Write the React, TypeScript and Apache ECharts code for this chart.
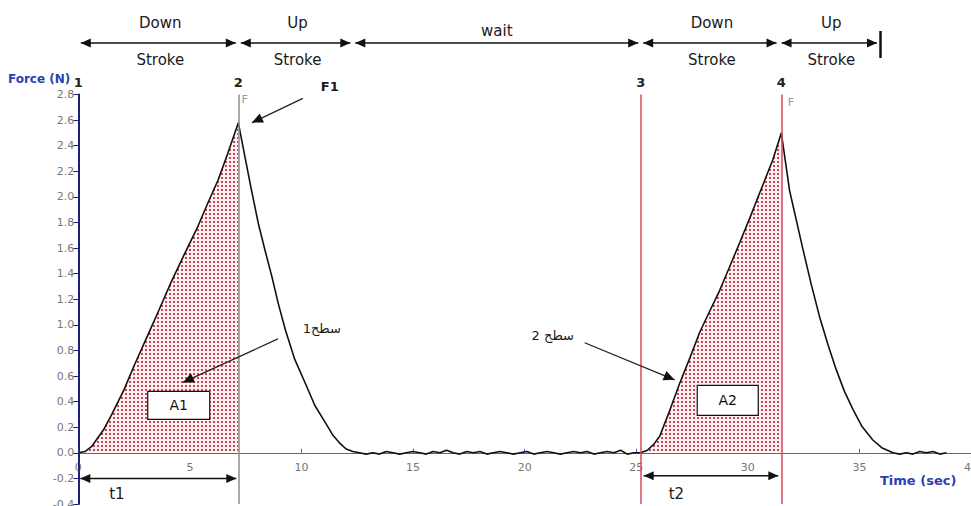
import React, { useEffect, useRef } from 'react';
import * as echarts from 'echarts';

// ---- data (time in s, force in N) ----
const riseOne: [number, number][] = [
  [0, 0], [0.3, 0.01], [0.6, 0.05], [1.13, 0.18], [1.5, 0.3], [2.04, 0.49], [2.5, 0.68],
  [3.09, 0.91], [3.6, 1.11], [4.15, 1.33], [4.75, 1.55], [5.36, 1.77], [5.8, 1.95],
  [6.26, 2.13], [6.7, 2.34], [7.17, 2.58],
];
const fallOne: [number, number][] = [
  [7.17, 2.58], [7.47, 2.31], [7.75, 2.06], [8.07, 1.79], [8.37, 1.58], [8.67, 1.38],
  [8.97, 1.16], [9.28, 0.96], [9.7, 0.73], [10.18, 0.54], [10.6, 0.37], [11.09, 0.23],
  [11.4, 0.14], [11.69, 0.08], [12.0, 0.03], [12.3, 0.01], [12.6, 0.0],
];
const waitNoise: [number, number][] = [
  [12.9, -0.01], [13.2, 0.0], [13.5, -0.01], [13.8, 0.01], [14.1, 0.0], [14.4, -0.01],
  [14.7, 0.0], [15.0, 0.01], [15.3, 0.0], [15.6, -0.01], [15.9, 0.01], [16.2, 0.0],
  [16.5, 0.02], [16.8, 0.0], [17.1, -0.01], [17.4, 0.01], [17.7, 0.0], [18.0, 0.01],
  [18.3, -0.01], [18.6, 0.0], [18.9, 0.01], [19.2, 0.0], [19.5, -0.01], [19.8, 0.0],
  [20.1, 0.01], [20.4, -0.01], [20.7, 0.0], [21.0, 0.01], [21.3, 0.0], [21.6, -0.01],
  [21.9, 0.0], [22.2, 0.01], [22.5, 0.0], [22.8, 0.01], [23.1, -0.01], [23.4, 0.0],
  [23.7, 0.01], [24.0, 0.0], [24.3, 0.02], [24.6, -0.01], [24.9, 0.0],
];
const riseTwo: [number, number][] = [
  [25.2, 0.0], [25.5, 0.02], [25.8, 0.07], [26.05, 0.13], [26.5, 0.33], [26.94, 0.54],
  [27.4, 0.74], [27.84, 0.94], [28.3, 1.11], [28.74, 1.27], [29.2, 1.46], [29.63, 1.64],
  [30.1, 1.84], [30.53, 2.03], [31.12, 2.29], [31.5, 2.5],
];
const fallTwo: [number, number][] = [
  [31.5, 2.5], [31.87, 2.05], [32.17, 1.82], [32.47, 1.59], [32.85, 1.31], [33.22, 1.06],
  [33.6, 0.84], [33.96, 0.65], [34.33, 0.48], [34.71, 0.34], [35.1, 0.21], [35.6, 0.1],
  [36.0, 0.04], [36.5, 0.0],
];
const tailNoise: [number, number][] = [
  [36.8, -0.01], [37.1, 0.0], [37.4, -0.01], [37.7, 0.01], [38.0, 0.0], [38.3, 0.01],
  [38.6, -0.01], [38.9, 0.0],
];

const markerTimes = [0, 7.17, 25.2, 31.5];
const markerNames = ['1', '2', '3', '4'];
const markerColors = ['#1f1f7a', '#8c8c8c', '#d8485c', '#d8485c'];

const phaseBounds = [0, 7.17, 12.3, 25.2, 31.4, 35.9];
const phaseTop = ['Down', 'Up', 'wait', 'Down', 'Up'];
const phaseBottom = ['Stroke', 'Stroke', '', 'Stroke', 'Stroke'];

const xMin = 0, xMax = 40, xStep = 5;
const yMin = -0.4, yMax = 2.8, yStep = 0.2;

const FONT = 'DejaVu Sans, Verdana, sans-serif';

const GRID_TOP = 94.5;
const GRID_BOTTOM = 2;
const CHART_H = 506;

function makeDotPattern(): HTMLCanvasElement {
  const c = document.createElement('canvas');
  c.width = 4;
  c.height = 4;
  const ctx = c.getContext('2d')!;
  ctx.fillStyle = 'rgba(255,240,242,1)';
  ctx.fillRect(0, 0, 4, 4);
  ctx.fillStyle = 'rgba(196,58,76,0.95)';
  ctx.fillRect(1, 1, 2, 2);
  return c;
}

export default function App() {
  const ref = useRef<HTMLDivElement>(null);

  useEffect(() => {
    if (!ref.current) return;
    const chart = echarts.init(ref.current, null, { renderer: 'svg' });
    const pattern = makeDotPattern();
    const forceData = [
      ...riseOne,
      ...fallOne.slice(1),
      ...waitNoise,
      ...riseTwo,
      ...fallTwo.slice(1),
      ...tailNoise,
    ];
    const fillSeries = (name: string, data: [number, number][]) => ({
      name,
      type: 'line',
      data,
      showSymbol: false,
      silent: true,
      z: 1,
      lineStyle: { width: 0 },
      areaStyle: { color: { image: pattern, repeat: 'repeat' }, opacity: 1 },
    });

    // move the x axis (line, ticks and labels) up to the y = 0 level
    const gridH = CHART_H - GRID_TOP - GRID_BOTTOM;
    const zeroOffset = -(gridH * (0 - yMin)) / (yMax - yMin);

    chart.setOption({
      animation: false,
      grid: {
        left: 78.3, right: 0, top: GRID_TOP, bottom: GRID_BOTTOM,
        containLabel: false, outerBoundsMode: 'none',
      },
      xAxis: {
        type: 'value',
        position: 'bottom',
        offset: zeroOffset,
        min: xMin,
        max: xMax,
        interval: xStep,
        name: 'Time (sec)',
        nameLocation: 'end',
        nameGap: -91,
        nameTextStyle: {
          color: '#2a3fb0', fontWeight: 'bold', fontSize: 13, fontFamily: FONT,
          verticalAlign: 'top', align: 'left', padding: [21, 0, 0, 0],
        },
        axisLine: { onZero: false, lineStyle: { color: '#5a5ad0', width: 1 } },
        axisTick: { inside: true, length: 4, lineStyle: { color: '#5a5ad0' } },
        axisLabel: { color: '#777', fontSize: 11, fontFamily: FONT, margin: 9 },
        splitLine: { show: false },
      },
      yAxis: {
        type: 'value',
        min: yMin,
        max: yMax,
        interval: yStep,
        name: 'Force (N)',
        nameLocation: 'end',
        nameGap: 10,
        nameTextStyle: {
          color: '#2a3fb0', fontWeight: 'bold', fontSize: 12, fontFamily: FONT,
          align: 'right', padding: [0, 8, 0, 0],
        },
        axisLine: { show: true, onZero: false, lineStyle: { color: '#1f1f7a', width: 2 } },
        axisTick: { show: true, length: 5, lineStyle: { color: '#1f1f7a' } },
        axisLabel: {
          color: '#777', fontSize: 11, fontFamily: FONT, margin: 4,
          formatter: (v: number) => v.toFixed(1),
        },
        splitLine: { show: false },
      },
      series: [
        fillSeries('A1', riseOne),
        fillSeries('A2', riseTwo),
        {
          name: 'Force',
          type: 'line',
          data: forceData,
          showSymbol: false,
          z: 3,
          lineStyle: { color: '#111', width: 1.6 },
          markLine: {
            silent: true,
            symbol: ['none', 'none'],
            data: markerTimes.map((t, i) => ({
              xAxis: t,
              name: markerNames[i],
              lineStyle: { color: markerColors[i], width: 1.5, type: 'solid' },
            })),
            label: {
              show: true,
              position: 'end',
              formatter: '{b}',
              fontWeight: 'bold',
              fontSize: 13,
              fontFamily: FONT,
              color: '#222',
              distance: 6,
            },
          },
        },
      ],
    });

    const P = (t: number, v: number) => chart.convertToPixel({ gridIndex: 0 }, [t, v]) as number[];
    const X = (t: number) => P(t, 0)[0];
    const g: any[] = [];
    const black = '#111';
    const Z = 100;

    const head = (x: number, y: number, ang: number, len = 10, hw = 4.5) => {
      const c = Math.cos(ang), s = Math.sin(ang);
      const bx = x - c * len, by = y - s * len;
      return {
        type: 'polygon',
        silent: true,
        z: Z,
        shape: { points: [[x, y], [bx - s * hw, by + c * hw], [bx + s * hw, by - c * hw]] },
        style: { fill: black },
      };
    };
    const dbl = (x1: number, x2: number, y: number) => {
      g.push({ type: 'line', silent: true, z: Z, shape: { x1, y1: y, x2, y2: y }, style: { stroke: black, lineWidth: 1.5 } });
      g.push(head(x1, y, Math.PI));
      g.push(head(x2, y, 0));
    };
    const slant = (a: number[], b: number[]) => {
      g.push({ type: 'line', silent: true, z: Z, shape: { x1: a[0], y1: a[1], x2: b[0], y2: b[1] }, style: { stroke: '#222', lineWidth: 1.3 } });
      g.push(head(b[0], b[1], Math.atan2(b[1] - a[1], b[0] - a[0]), 11, 5));
    };
    const txt = (x: number, y: number, text: string, size = 14, extra: any = {}) => {
      g.push({
        type: 'text', silent: true, z: Z, x, y,
        style: { text, fill: '#1a1a1a', font: `${extra.bold ? 'bold ' : ''}${size}px ${FONT}`, align: 'center', verticalAlign: 'middle', ...(extra.style || {}) },
      });
    };

    // phase arrows at the top
    const yArrow = 43;
    for (let i = 0; i < phaseTop.length; i++) {
      const x1 = X(phaseBounds[i]) + 2.5;
      const x2 = X(phaseBounds[i + 1]) - 2.5;
      dbl(x1, x2, yArrow);
      const cx = (x1 + x2) / 2;
      if (phaseBottom[i]) {
        txt(cx + 2, 23, phaseTop[i], 15);
        txt(cx + 2, 60, phaseBottom[i], 15);
      } else {
        txt(cx, 31, phaseTop[i], 15);
      }
    }
    const xe = X(phaseBounds[phaseBounds.length - 1]) + 1;
    g.push({ type: 'line', silent: true, z: Z, shape: { x1: xe, y1: 31, x2: xe, y2: 58 }, style: { stroke: black, lineWidth: 2.5 } });

    // t1 / t2 intervals
    const yt1 = P(0, -0.2)[1];
    dbl(X(markerTimes[0]) + 2, X(markerTimes[1]) - 2, yt1);
    const yt2 = P(0, -0.18)[1];
    dbl(X(markerTimes[2]) + 3, X(markerTimes[3]) - 3, yt2);
    const t1p = P(1.73, -0.32);
    txt(t1p[0], t1p[1], 't1', 15);
    const t2p = P(26.8, -0.32);
    txt(t2p[0], t2p[1], 't2', 15);

    // A1 / A2 boxes
    const box = (c: number[], w: number, h: number, label: string) => {
      g.push({ type: 'rect', silent: true, z: Z, shape: { x: c[0] - w / 2, y: c[1] - h / 2, width: w, height: h }, style: { fill: '#fff', stroke: '#111', lineWidth: 1.2 } });
      g.push({ type: 'text', silent: true, z: Z + 1, x: c[0], y: c[1], style: { text: label, fill: '#111', font: `14px ${FONT}`, align: 'center', verticalAlign: 'middle' } });
    };
    box(P(4.5, 0.37), 62, 28, 'A1');
    box(P(29.1, 0.41), 61, 30, 'A2');

    // F1 annotation
    const f1 = P(11.27, 2.86);
    txt(f1[0], f1[1], 'F1', 13, { bold: true });
    slant(P(10.06, 2.77), P(7.78, 2.58));

    // surface annotations
    const s1 = P(10.91, 0.97);
    txt(s1[0], s1[1], 'سطح1', 13);
    slant(P(8.94, 0.89), P(4.69, 0.55));
    const s2 = P(21.26, 0.92);
    txt(s2[0], s2[1], 'سطح 2', 13);
    slant(P(22.69, 0.86), P(26.72, 0.57));

    // small F marks near peaks
    const fa = P(7.45, 2.76);
    txt(fa[0], fa[1], 'F', 11, { style: { fill: '#999' } });
    const fb = P(31.93, 2.74);
    txt(fb[0], fb[1], 'F', 11, { style: { fill: '#999' } });

    chart.setOption({ graphic: g });

    return () => chart.dispose();
  }, []);

  return (
    <div
      ref={ref}
      style={{ position: 'fixed', left: 0, top: 0, width: 971, height: 506, background: '#fff' }}
    />
  );
}
